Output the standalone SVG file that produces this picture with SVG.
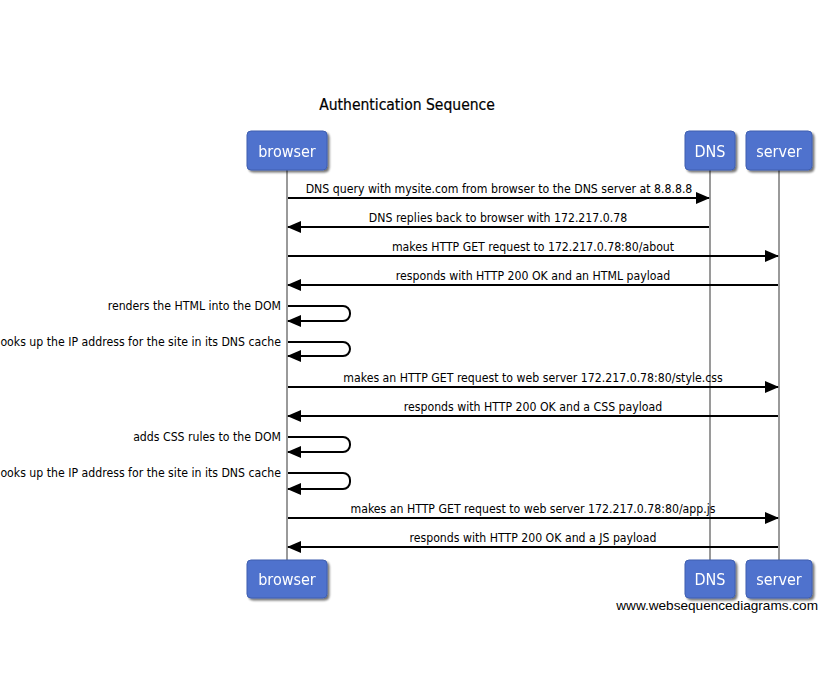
<svg xmlns="http://www.w3.org/2000/svg" width="827" height="676" viewBox="0 0 827 676">
  <defs>
    <marker id="arrow" markerWidth="14" markerHeight="12" refX="13" refY="6" orient="auto" markerUnits="userSpaceOnUse">
      <path d="M0,0 L14,6 L0,12 Z" fill="#000"/>
    </marker>
    <filter id="shadow" x="-20%" y="-20%" width="140%" height="150%">
      <feGaussianBlur in="SourceAlpha" stdDeviation="1.2"/>
      <feOffset dx="2" dy="2" result="b"/>
      <feComponentTransfer><feFuncA type="linear" slope="0.55"/></feComponentTransfer>
      <feMerge><feMergeNode/><feMergeNode in="SourceGraphic"/></feMerge>
    </filter>
  </defs>
  <style>
    text { font-family: "DejaVu Sans Condensed", "DejaVu Sans", sans-serif; }
    .title { font-size: 15.5px; fill: #000; stroke: #000; stroke-width: 0.2; }
    .box { fill: #4f72cd; stroke: #3f5fb0; stroke-width: 1; }
    .boxlabel { font-size: 16px; fill: #fff; text-anchor: middle; }
    .life { stroke: #9a9a9a; stroke-width: 2; }
    .msg { stroke: #000; stroke-width: 2; fill: none; }
    .lbl { font-size: 12.2px; fill: #000; text-anchor: middle; }
    .self { font-size: 12.2px; fill: #000; text-anchor: end; }
    .wm { font-family: "Liberation Sans", Arial, sans-serif; font-size: 13.6px; fill: #000; }
  </style>

  <rect width="827" height="676" fill="#fff"/>

  <text class="title" x="407" y="110" text-anchor="middle">Authentication Sequence</text>

  <!-- lifelines -->
  <g id="lifelines">
    <line class="life" x1="287" y1="170" x2="287" y2="561"/>
    <line class="life" x1="710" y1="170" x2="710" y2="561"/>
    <line class="life" x1="779" y1="170" x2="779" y2="561"/>
  </g>

  <!-- participants, top -->
  <g id="browser-top" filter="url(#shadow)">
    <rect class="box" x="247" y="131" width="80" height="39" rx="4"/>
    <text class="boxlabel" x="287" y="157">browser</text>
  </g>
  <g id="dns-top" filter="url(#shadow)">
    <rect class="box" x="685" y="131" width="50" height="39" rx="4"/>
    <text class="boxlabel" x="710" y="157">DNS</text>
  </g>
  <g id="server-top" filter="url(#shadow)">
    <rect class="box" x="746" y="131" width="66" height="39" rx="4"/>
    <text class="boxlabel" x="779" y="157">server</text>
  </g>

  <!-- participants, bottom -->
  <g id="browser-bottom" filter="url(#shadow)">
    <rect class="box" x="247" y="560" width="80" height="38" rx="4"/>
    <text class="boxlabel" x="287" y="585">browser</text>
  </g>
  <g id="dns-bottom" filter="url(#shadow)">
    <rect class="box" x="685" y="560" width="50" height="38" rx="4"/>
    <text class="boxlabel" x="710" y="585">DNS</text>
  </g>
  <g id="server-bottom" filter="url(#shadow)">
    <rect class="box" x="746" y="560" width="66" height="38" rx="4"/>
    <text class="boxlabel" x="779" y="585">server</text>
  </g>

  <!-- messages -->
  <g id="connectors">
    <line class="msg" x1="288" y1="198" x2="709" y2="198" marker-end="url(#arrow)"/>
    <line class="msg" x1="709" y1="227" x2="288" y2="227" marker-end="url(#arrow)"/>
    <line class="msg" x1="288" y1="256" x2="778" y2="256" marker-end="url(#arrow)"/>
    <line class="msg" x1="778" y1="285" x2="288" y2="285" marker-end="url(#arrow)"/>
    <path class="msg" d="M288,306 H343 A7,7 0 0 1 350,313 V314 A7,7 0 0 1 343,321 H288" marker-end="url(#arrow)"/>
    <path class="msg" d="M288,342 H343 A7,7 0 0 1 350,349 V349 A7,7 0 0 1 343,356 H288" marker-end="url(#arrow)"/>
    <line class="msg" x1="288" y1="387" x2="778" y2="387" marker-end="url(#arrow)"/>
    <line class="msg" x1="778" y1="416" x2="288" y2="416" marker-end="url(#arrow)"/>
    <path class="msg" d="M288,437 H343 A7,7 0 0 1 350,444 V445 A7,7 0 0 1 343,452 H288" marker-end="url(#arrow)"/>
    <path class="msg" d="M288,473 H343 A7,7 0 0 1 350,480 V482 A7,7 0 0 1 343,489 H288" marker-end="url(#arrow)"/>
    <line class="msg" x1="288" y1="518" x2="778" y2="518" marker-end="url(#arrow)"/>
    <line class="msg" x1="778" y1="547" x2="288" y2="547" marker-end="url(#arrow)"/>
  </g>

  <!-- message labels -->
  <g id="labels">
    <text class="lbl" x="499" y="193">DNS query with mysite.com from browser to the DNS server at 8.8.8.8</text>
    <text class="lbl" x="498" y="222">DNS replies back to browser with 172.217.0.78</text>
    <text class="lbl" x="533" y="251">makes HTTP GET request to 172.217.0.78:80/about</text>
    <text class="lbl" x="533" y="280">responds with HTTP 200 OK and an HTML payload</text>
    <text class="self" x="281" y="310">renders the HTML into the DOM</text>
    <text class="self" x="281" y="346">looks up the IP address for the site in its DNS cache</text>
    <text class="lbl" x="533" y="382">makes an HTTP GET request to web server 172.217.0.78:80/style.css</text>
    <text class="lbl" x="533" y="411">responds with HTTP 200 OK and a CSS payload</text>
    <text class="self" x="281" y="441">adds CSS rules to the DOM</text>
    <text class="self" x="281" y="477">looks up the IP address for the site in its DNS cache</text>
    <text class="lbl" x="533" y="513">makes an HTTP GET request to web server 172.217.0.78:80/app.js</text>
    <text class="lbl" x="533" y="542">responds with HTTP 200 OK and a JS payload</text>
  </g>

  <text class="wm" x="818" y="610" text-anchor="end">www.websequencediagrams.com</text>
</svg>
